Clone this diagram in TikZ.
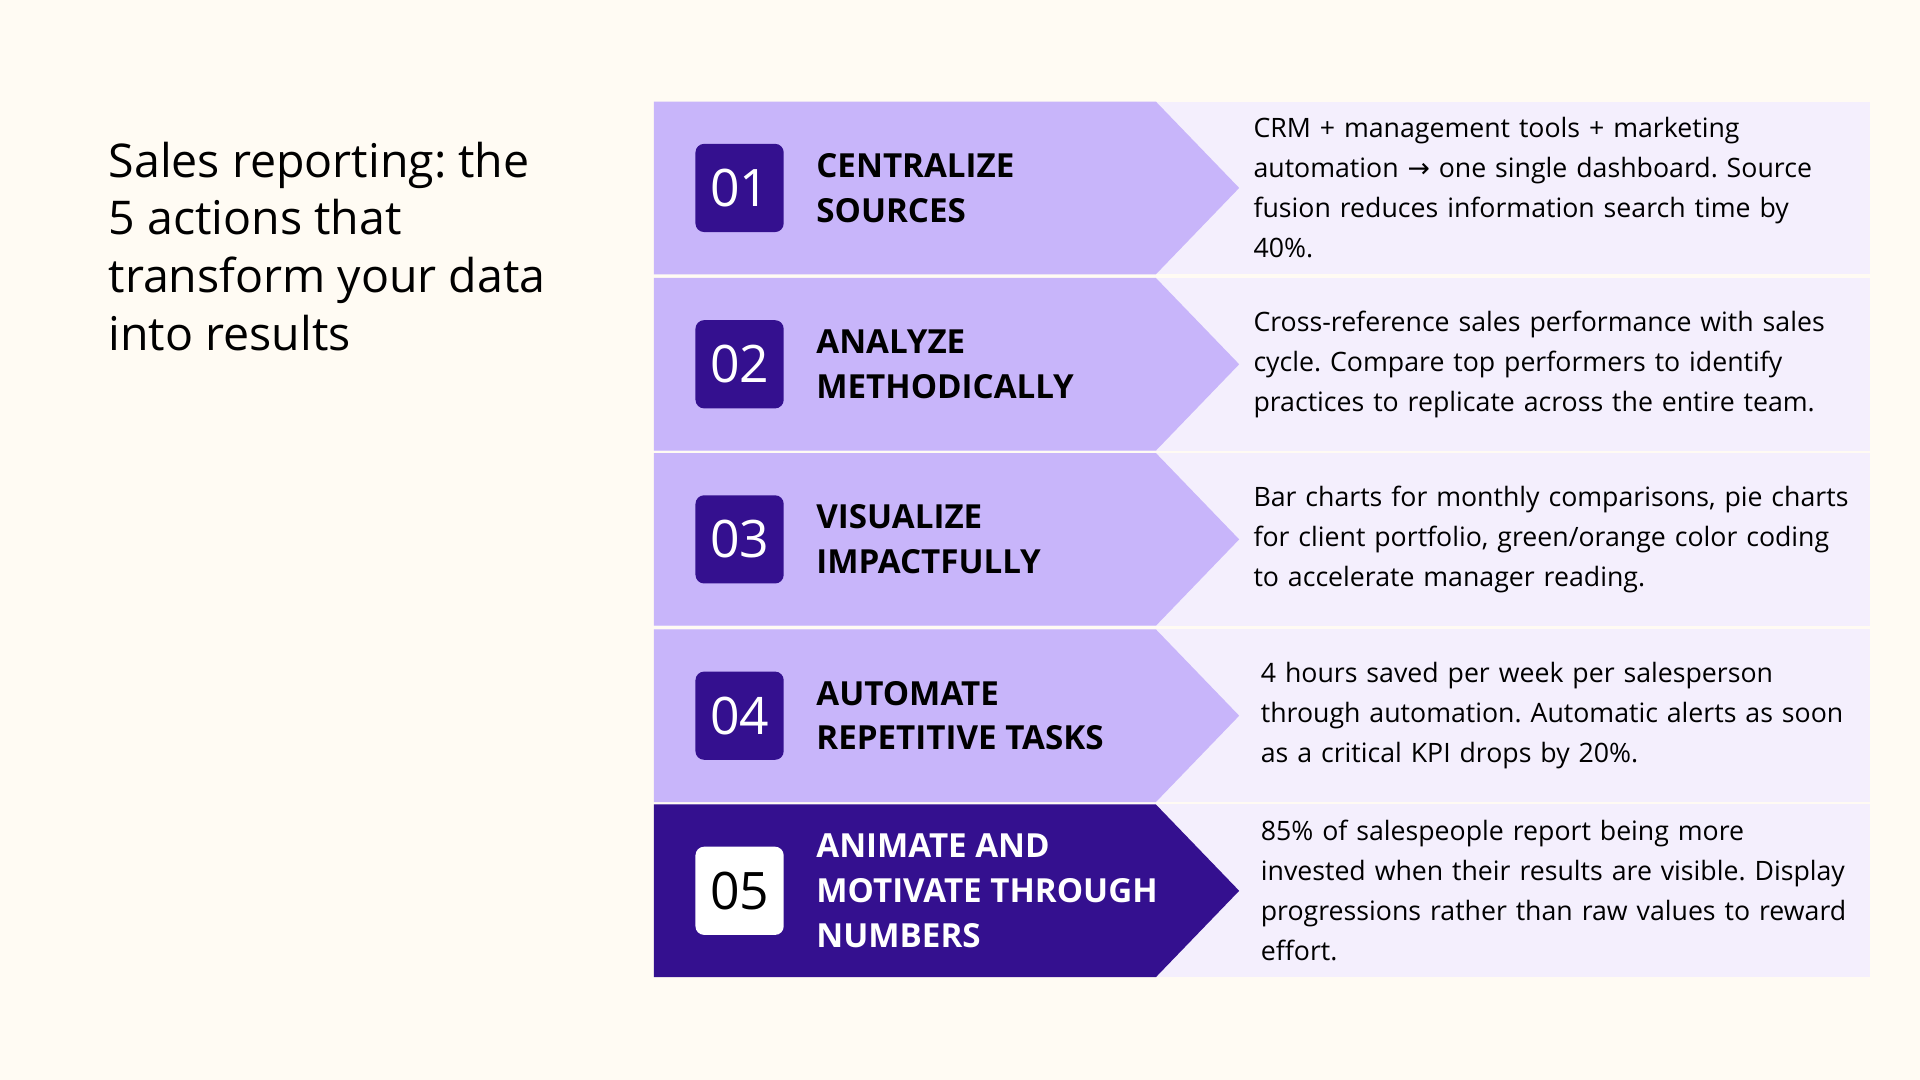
\documentclass[tikz,border=0pt]{standalone}
\usepackage{fontspec}
\setmainfont{Open Sans}
\newfontfamily\symfont{DejaVu Sans}
\usetikzlibrary{positioning}
\hyphenpenalty=10000
\exhyphenpenalty=10000
\frenchspacing
\definecolor{bgcream}{HTML}{FFFBF3}
\definecolor{lilac}{HTML}{C8B5FA}
\definecolor{paleviolet}{HTML}{F4EFFD}
\definecolor{deepviolet}{HTML}{34108F}
\tikzset{
  rowband/.style={fill=paleviolet, draw=none},
  chevron/.style={fill=lilac, draw=none},
  numbox/.style={rectangle, rounded corners=2pt, fill=deepviolet, text=white,
    minimum width=0.72cm, minimum height=0.72cm, inner sep=0pt,
    font=\fontsize{12}{14}\selectfont},
  heading/.style={anchor=west, align=left, text=black, inner sep=0pt,
    font=\fontsize{7.7}{10.4}\selectfont\bfseries},
  detail/.style={anchor=west, align=left, text width=4.88cm, inner sep=0pt,
    font=\fontsize{6.2}{9.3}\selectfont},
}
\begin{document}
\begin{tikzpicture}[x=0.01cm, y=-0.01cm]
  \fill[bgcream] (0,0) rectangle (1568,882);
  \useasboundingbox (0,0) rectangle (1568,882);

  \node[anchor=north west, align=left, inner sep=0pt,
    font=\fontsize{10.8}{13.4}\selectfont] (title) at (88,115)
    {Sales reporting: the\\5 actions that\\transform your data\\into results};

  \foreach \n/\top/\tx/\head/\body in {
    01/83/1023/{CENTRALIZE\\SOURCES}/{CRM + management tools + marketing automation {\symfont→} one single dashboard. Source fusion reduces information search time by 40\%.},
    02/227/1023/{ANALYZE\\METHODICALLY}/{Cross-reference sales performance with sales cycle. Compare top performers to identify practices to replicate across the entire team.},
    03/370/1023/{VISUALIZE\\IMPACTFULLY}/{Bar charts for monthly comparisons, pie charts for client portfolio, green/orange color coding to accelerate manager reading.},
    04/514/1029/{AUTOMATE\\REPETITIVE TASKS}/{4 hours saved per week per salesperson through automation. Automatic alerts as soon as a critical KPI drops by 20\%.}}
  {
    \fill[rowband] (534,\top) rectangle (1527,\top+141);
    \fill[chevron] (534,\top) -- (944,\top) -- (1012,\top+70.5)
      -- (944,\top+141) -- (534,\top+141) -- cycle;
    \node[numbox] (num\n) at (604,\top+70.5) {\n};
    \node[heading] (head\n) at (666,\top+70.5) {\head};
    \node[detail] (text\n) at (\tx,\top+70.5) {\body};
  }

  % last row, dark highlight
  \fill[rowband] (534,657) rectangle (1527,798);
  \fill[deepviolet] (534,657) -- (944,657) -- (1012,727.5)
    -- (944,798) -- (534,798) -- cycle;
  \node[numbox, fill=white, text=black] (num05) at (604,727.5) {05};
  \node[heading, text=white] (head05) at (666,727.5)
    {ANIMATE AND\\MOTIVATE THROUGH\\NUMBERS};
  \node[detail] (text05) at (1029,727.5) {85\% of salespeople report being more invested when their results are visible. Display progressions rather than raw values to reward effort.};
\end{tikzpicture}
\end{document}
